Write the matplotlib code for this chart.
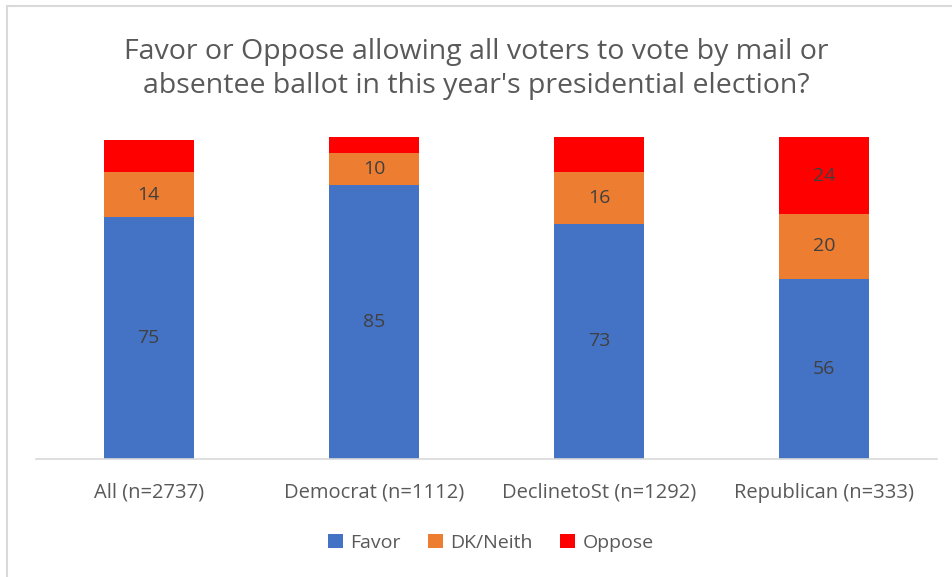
import matplotlib.pyplot as plt
import numpy as np
from matplotlib.patches import Rectangle

plt.rcParams['font.family'] = ['Open Sans', 'DejaVu Sans']

categorias = ["All (n=2737)", "Democrat (n=1112)", "DeclinetoSt (n=1292)", "Republican (n=333)"]
favor = [75, 85, 73, 56]
dk_neith = [14, 10, 16, 20]
oppose = [10, 5, 11, 24]
# the chart only prints the Republican oppose share
oppose_etiquetas = ["", "", "", "24"]

W, H = 952, 577
fig = plt.figure(figsize=(W / 100, H / 100), dpi=100)

# light frame around the chart area (top and left edges are visible)
fig.patches.append(Rectangle((7 / W, -0.1), 1.2, 1 - 6 / H + 0.1,
                             transform=fig.transFigure, fill=False,
                             edgecolor="#d9d9d9", linewidth=1.5))

ax = fig.add_axes([36 / W, 1 - 459 / H, 901 / W, (459 - 137) / H])
x = np.arange(len(categorias))
ancho = 0.4

b1 = ax.bar(x, favor, ancho, color="#4472c4", label="Favor")
b2 = ax.bar(x, dk_neith, ancho, bottom=favor, color="#ed7d31", label="DK/Neith")
base2 = [f + d for f, d in zip(favor, dk_neith)]
b3 = ax.bar(x, oppose, ancho, bottom=base2, color="#ff0000", label="Oppose")

for barras, etiquetas in [(b1, [str(v) for v in favor]),
                          (b2, [str(v) for v in dk_neith]),
                          (b3, oppose_etiquetas)]:
    ax.bar_label(barras, labels=etiquetas, label_type="center",
                 color="#404040", fontsize=14)

ax.set_xlim(-0.5, 3.5)
ax.set_ylim(0, 100)
ax.set_yticks([])
ax.set_xticks(x)
ax.set_xticklabels(categorias, fontsize=14.5, color="#595959")
ax.tick_params(axis="x", length=0, pad=17)
for lado in ["top", "right", "left"]:
    ax.spines[lado].set_visible(False)
ax.spines["bottom"].set_color("#d9d9d9")
ax.spines["bottom"].set_linewidth(1.2)

fig.text(0.5, 1 - 69 / H,
         "Favor or Oppose allowing all voters to vote by mail or\n"
         "absentee ballot in this year's presidential election?",
         ha="center", va="center", fontsize=20.5, color="#595959",
         linespacing=1.3)

fig.legend(loc="center", bbox_to_anchor=(491 / W, 1 - 543 / H), ncol=3,
           frameon=False, fontsize=14, labelcolor="#595959",
           handlelength=0.75, handleheight=0.75, handletextpad=0.4,
           columnspacing=1.4)

fig.savefig("out.png", dpi=100)
